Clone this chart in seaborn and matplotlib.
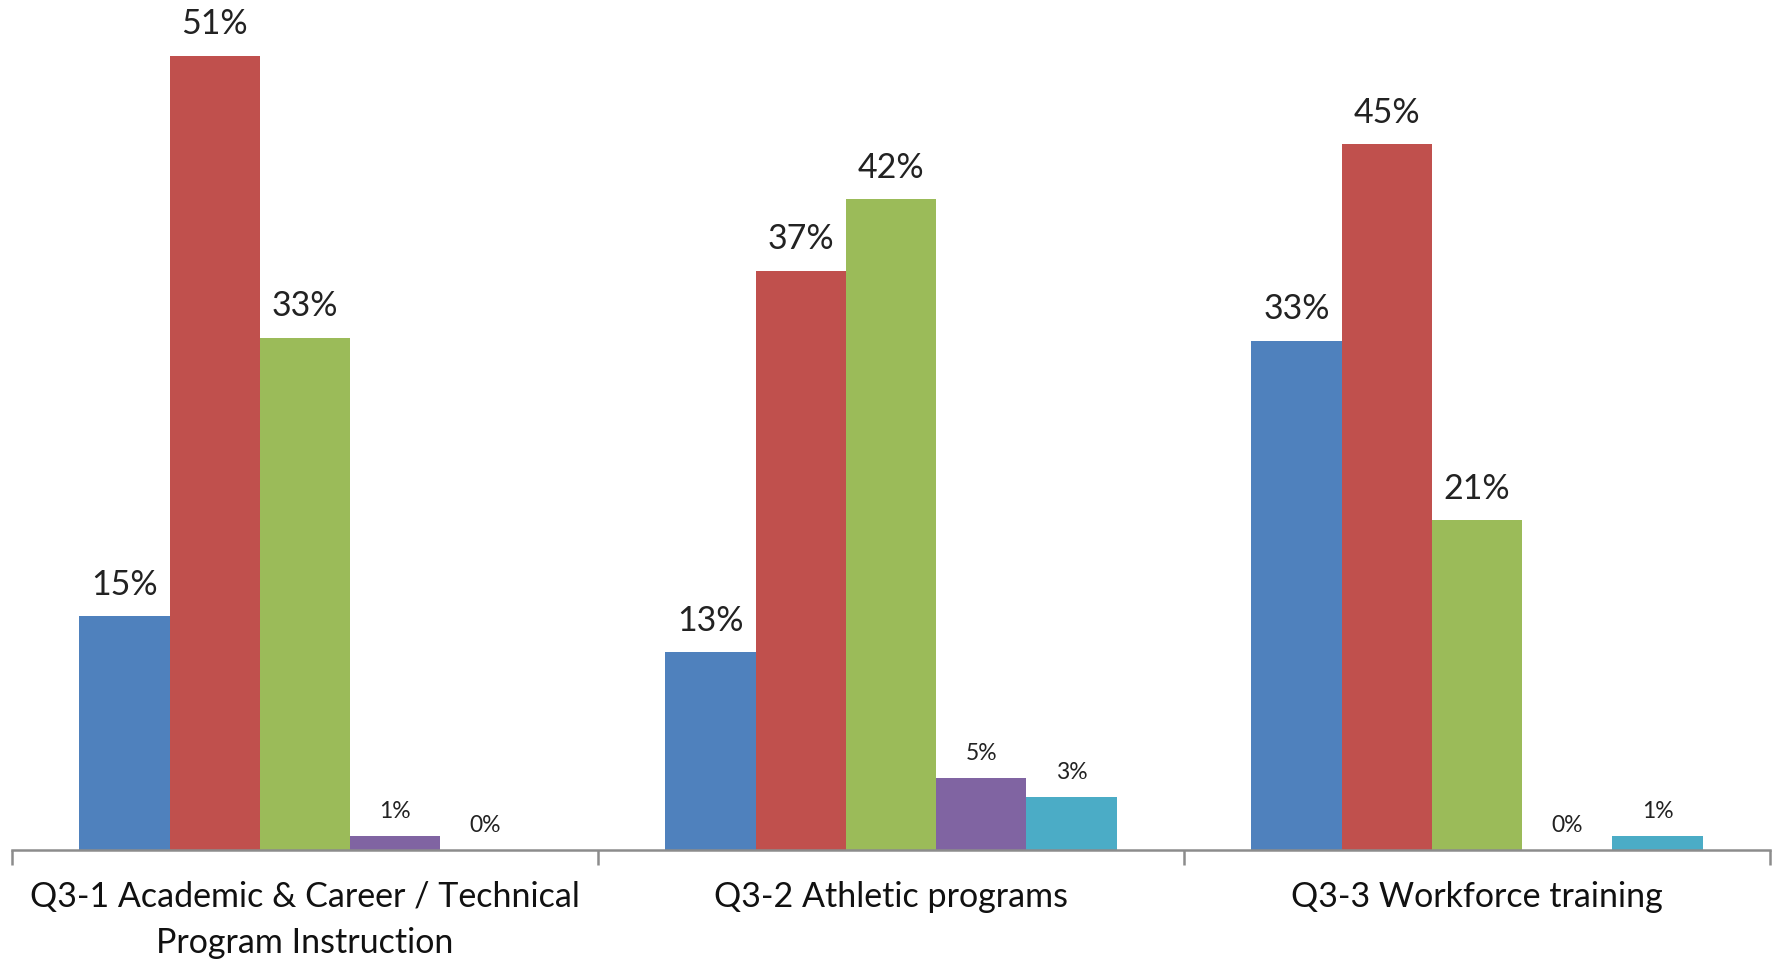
import pandas as pd
import matplotlib.pyplot as plt
import seaborn as sns

# values (fractions)
questions = ["Q3-1 Academic & Career / Technical\nProgram Instruction",
             "Q3-2 Athletic programs",
             "Q3-3 Workforce training"]
series = ["Very important", "Important", "Somewhat important", "Not important", "No answer"]
very_important = [0.150, 0.127, 0.327]
important = [0.510, 0.372, 0.453]
somewhat = [0.329, 0.418, 0.212]
not_important = [0.009, 0.046, 0.000]
no_answer = [0.000, 0.034, 0.009]
colors = ["#4F81BD", "#C0504D", "#9BBB59", "#8064A2", "#4BACC6"]

rows = []
for name, vals in zip(series, [very_important, important, somewhat, not_important, no_answer]):
    for q, v in zip(questions, vals):
        rows.append({"question": q, "series": name, "value": v})
df = pd.DataFrame(rows)

sns.set_style("white")
plt.rcParams["font.family"] = ["Lato", "DejaVu Sans"]

fig = plt.figure(figsize=(17.77, 9.61), dpi=100)
ax = fig.add_axes([12 / 1777, 111 / 961, 1758 / 1777, 841 / 961])

sns.barplot(data=df, x="question", y="value", hue="series", hue_order=series,
            palette=colors, width=0.77, saturation=1, legend=False,
            linewidth=0, edgecolor="none", ax=ax)

ax.set_ylim(0, 0.54)
ax.set_xlim(-0.5, 2.5)

# data labels: first three series large, last two small
for i, cont in enumerate(ax.containers):
    labels = [f"{v * 100:.0f}%" for v in cont.datavalues]
    size = 24.5 if i < 3 else 16.5
    pad = 11 if i < 3 else 10
    ax.bar_label(cont, labels=labels, fontsize=size, padding=pad, color="#222222")

for s in ["top", "right", "left"]:
    ax.spines[s].set_visible(False)
ax.spines["bottom"].set_color("#8c8c8c")
ax.spines["bottom"].set_linewidth(1.8)

ax.set_yticks([])
ax.set_xlabel("")
ax.set_ylabel("")
ax.set_xticks([-0.5, 0.5, 1.5, 2.5], minor=True)
ax.tick_params(axis="x", which="major", bottom=False, length=0, pad=22, labelsize=24.5,
               labelcolor="#111111")
ax.tick_params(axis="x", which="minor", bottom=True, length=11, width=1.8,
               color="#8c8c8c", direction="out")
for lbl in ax.get_xticklabels():
    lbl.set_linespacing(1.55)

fig.savefig("out.png", dpi=100)
